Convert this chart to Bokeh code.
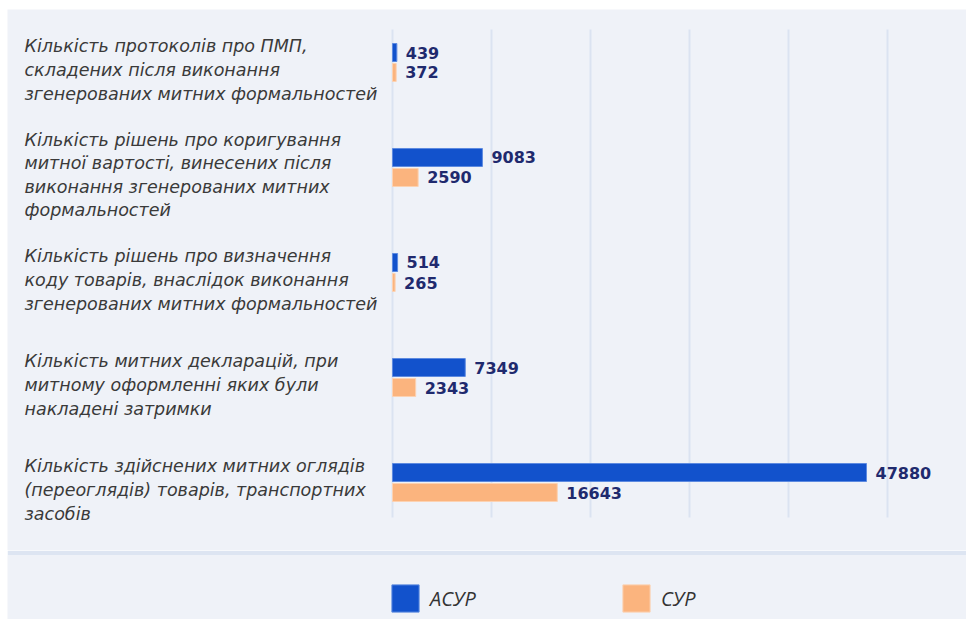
from bokeh.plotting import figure
from bokeh.models import (ColumnDataSource, FactorRange, Range1d, LabelSet,
                          Legend, LegendItem, Spacer)
from bokeh.transform import dodge
from bokeh.layouts import column, row
from bokeh.embed import file_html
from bokeh.resources import INLINE
from bokeh.core.properties import value

# ---------------- data ----------------
categories = [
    "Кількість протоколів про ПМП,\nскладених після виконання\nзгенерованих митних формальностей",
    "Кількість рішень про коригування\nмитної вартості, винесених після\nвиконання згенерованих митних\nформальностей",
    "Кількість рішень про визначення\nкоду товарів, внаслідок виконання\nзгенерованих митних формальностей",
    "Кількість митних декларацій, при\nмитному оформленні яких були\nнакладені затримки",
    "Кількість здійснених митних оглядів\n(переоглядів) товарів, транспортних\nзасобів",
]
asur = [439, 9083, 514, 7349, 47880]
sur = [372, 2590, 265, 2343, 16643]
series_names = ["АСУР", "СУР"]
x_ticks = [0, 10000, 20000, 30000, 40000, 50000]

# ---------------- style / layout ----------------
BG = "#eff2f8"
SEP = "#dde5f2"
GRID = "#dbe3f1"
BLUE = "#1252cc"
ORANGE = "#fbb47e"
VAL_COLOR = "#1f2a6e"
CAT_COLOR = "#3a3a3a"

LEFT = 7
TOP = 9
W = 959
H1 = 541          # page y 9 .. 550
H2 = 69           # page y 550 .. 619
frame_h = H1

zero_px = 392.0 - LEFT
max_px = 887.0 - LEFT
px_per_val = (max_px - zero_px) / x_ticks[-1]
x_start = -zero_px / px_per_val
x_end = x_start + W / px_per_val

unit_px = 105.0
pad = (frame_h / unit_px - len(categories)) / 2.0   # absolute padding, per side
y_top = len(categories) + pad
grid_top = y_top - (29 - TOP) / unit_px
grid_bot = y_top - (517 - TOP) / unit_px
bar_h = 18.0 / unit_px
off = 10.0 / unit_px
shift = 7.5 / unit_px   # bars sit slightly above the label centres

p = figure(width=W, height=H1,
           x_range=Range1d(x_start, x_end),
           y_range=FactorRange(factors=list(reversed(categories)),
                               range_padding=pad, range_padding_units="absolute"),
           x_axis_location=None, y_axis_location=None,
           output_backend="svg", toolbar_location=None,
           min_border_left=0, min_border_right=0,
           min_border_top=0, min_border_bottom=0,
           background_fill_color=BG, border_fill_color=BG,
           outline_line_color=None)
p.xgrid.visible = False
p.ygrid.visible = False

# vertical grid lines at the tick values
p.segment(x0=x_ticks, x1=x_ticks, y0=[grid_bot] * len(x_ticks), y1=[grid_top] * len(x_ticks),
          line_color=GRID, line_width=2)

src_a = ColumnDataSource(dict(cat=categories, v=asur, t=[str(v) for v in asur]))
src_s = ColumnDataSource(dict(cat=categories, v=sur, t=[str(v) for v in sur]))

y_a = dodge("cat", shift + off, range=p.y_range)
y_s = dodge("cat", shift - off, range=p.y_range)

p.hbar(y=y_a, left=0, right="v", height=bar_h, source=src_a,
       fill_color=BLUE, line_color="#5d8ae0", line_width=1)
p.hbar(y=y_s, left=0, right="v", height=bar_h, source=src_s,
       fill_color=ORANGE, line_color="#fcd2b2", line_width=1)

for src, yy in ((src_a, y_a), (src_s, y_s)):
    p.add_layout(LabelSet(x="v", y=yy, text="t", source=src, x_offset=9,
                          text_font=value("DejaVu Sans"), text_font_style="bold",
                          text_font_size="16px", text_color=VAL_COLOR,
                          text_baseline="middle", text_align="left"))

cat_src = ColumnDataSource(dict(cat=categories))
p.add_layout(LabelSet(x=24 - LEFT, x_units="screen", y="cat", text="cat", source=cat_src,
                      text_font=value("DejaVu Sans"), text_font_style="italic",
                      text_font_size="17.5px", text_color=CAT_COLOR,
                      text_baseline="middle", text_align="left",
                      text_line_height=1.18))

# ---------------- legend area ----------------
q = figure(width=W, height=H2, x_range=Range1d(0, 1), y_range=Range1d(0, 1),
           x_axis_location=None, y_axis_location=None,
           output_backend="svg", toolbar_location=None,
           min_border_left=0, min_border_right=0, min_border_bottom=0, min_border_top=5,
           background_fill_color=BG, border_fill_color=SEP, outline_line_color=None)
q.xgrid.visible = False
q.ygrid.visible = False
nan = float("nan")
r1 = q.rect(x=[nan], y=[nan], width=1, height=1, fill_color=BLUE, line_color="#5d8ae0")
r2 = q.rect(x=[nan], y=[nan], width=1, height=1, fill_color=ORANGE, line_color="#fcd2b2")

GLYPH = 34
for r, name, loc in ((r1, series_names[0], (388 - LEFT, 4)), (r2, series_names[1], (619 - LEFT, 4))):
    leg = Legend(items=[LegendItem(label=value(name), renderers=[r])], location=loc,
                 orientation="horizontal", glyph_width=GLYPH, glyph_height=GLYPH,
                 label_height=GLYPH, label_standoff=8, padding=0, margin=0,
                 border_line_color=None, background_fill_alpha=0,
                 label_text_font="Open Sans", label_text_font_style="italic",
                 label_text_font_size="20px", label_text_color="#333333")
    q.add_layout(leg)

layout = column(Spacer(height=TOP),
                row(Spacer(width=LEFT), column(p, q, spacing=0), spacing=0),
                spacing=0)
open("out.html", "w").write(file_html(layout, INLINE))
